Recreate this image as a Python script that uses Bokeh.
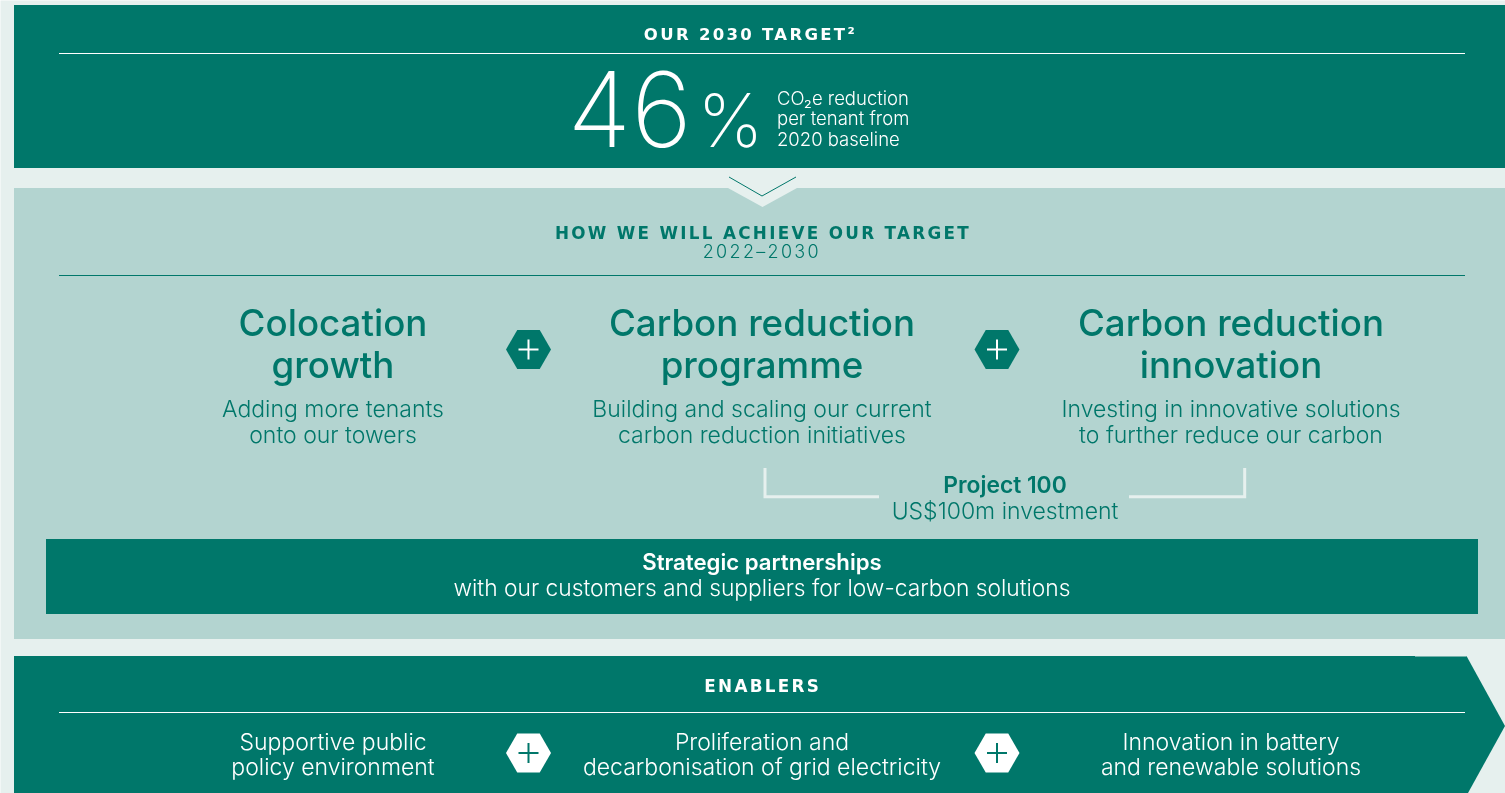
from bokeh.embed import file_html
from bokeh.resources import INLINE
from bokeh.plotting import figure
from bokeh.core.properties import value

TEAL = "#00776a"
LIGHT = "#b3d4d0"
PALE = "#e6f0ee"
WHITE = "#ffffff"
BODY = "Inter Light"
HEAD = "Inter Medium"
BOLD = "Inter SemiBold"
CAPS = "DejaVu Sans"
BIG = "Inter ExtraLight"

top_title = "OUR 2030 TARGET²"
big_number = "46"
big_unit = "%"
big_note = ["CO₂e reduction", "per tenant from", "2020 baseline"]
how_title = "HOW WE WILL ACHIEVE OUR TARGET"
how_years = "2022–2030"
pillar_titles = [["Colocation", "growth"], ["Carbon reduction", "programme"], ["Carbon reduction", "innovation"]]
pillar_notes = [["Adding more tenants", "onto our towers"],
                ["Building and scaling our current", "carbon reduction initiatives"],
                ["Investing in innovative solutions", "to further reduce our carbon"]]
project_title = "Project 100"
project_note = "US$100m investment"
partner_title = "Strategic partnerships"
partner_note = "with our customers and suppliers for low-carbon solutions"
enablers_title = "ENABLERS"
enablers = [["Supportive public", "policy environment"],
            ["Proliferation and", "decarbonisation of grid electricity"],
            ["Innovation in battery", "and renewable solutions"]]
column_x = [333, 762, 1231]
plus_x = [528.5, 997]


def canvas(fill, extra):
    # the half pixel cancels the offset the SVG backend applies to everything it draws
    f = figure(width=1505, height=793, x_range=(0.5, 1505.5), y_range=(793.5, 0.5),
               output_backend="svg", toolbar_location=None, min_border=0,
               x_axis_location=None, y_axis_location=None,
               background_fill_color=fill, border_fill_color=fill, outline_line_color=None,
               styles={"position": "fixed", "left": "0", "top": "0", **extra})
    f.grid.visible = False
    return f


p = canvas(PALE, {})
q = canvas(None, {"letter-spacing": "2.3px", "pointer-events": "none"})


def label(x, y, s, font, size, color, align="center", bold=False, fig=p):
    fig.text([x], [y], text=[s], text_font=value(font), text_font_size=f"{size}px",
             text_color=color, text_align=align, text_baseline="middle",
             text_font_style="bold" if bold else "normal")


# panels
p.quad(left=[14], right=[1505], top=[5], bottom=[168], fill_color=TEAL, line_color=None)
p.quad(left=[14], right=[1505], top=[188], bottom=[639], fill_color=LIGHT, line_color=None)
p.quad(left=[46], right=[1478], top=[539], bottom=[614], fill_color=TEAL, line_color=None)
p.patch([14, 1466.5, 1505, 1468, 14], [656, 656, 726, 793, 793], fill_color=TEAL, line_color=None)
p.line([1415, 1466.5], [656.5, 656.5], line_color=PALE, line_alpha=0.5, line_width=1)

# chevron between the panels
p.patch([728, 797, 762.5], [188, 188, 207], fill_color=PALE, line_color=None)
p.line([729, 762, 796], [177, 196, 177], line_color=TEAL, line_width=1)

# rules
p.line([59, 1465], [53.5, 53.5], line_color=WHITE, line_width=1)
p.line([59, 1465], [275.5, 275.5], line_color=TEAL, line_width=1)
p.line([59, 1465], [712.5, 712.5], line_color=WHITE, line_width=1)

# brackets
p.line([765, 765, 879], [468, 496.8, 496.8], line_color=PALE, line_width=3, line_join="miter")
p.line([1129, 1244.7, 1244.7], [496.8, 496.8, 468], line_color=PALE, line_width=3, line_join="miter")

# hexagons with a plus
p.scatter(plus_x, [349.5, 349.5], marker="hex", size=45, fill_color=TEAL, line_color=None)
p.scatter(plus_x, [349.5, 349.5], marker="cross", size=20, fill_color=None, line_color=WHITE, line_width=2)
p.scatter(plus_x, [753, 753], marker="hex", size=45, fill_color=WHITE, line_color=None)
p.scatter(plus_x, [753, 753], marker="cross", size=20, fill_color=None, line_color=TEAL, line_width=2)

# top panel text
label(732, 34.5, top_title, CAPS, 16.5, WHITE, bold=True, fig=q)
label(567.5, 108.5, big_number, BIG, 104, WHITE, align="left")
label(697.5, 119.5, big_unit, BIG, 74, WHITE, align="left")
for y, s in zip([98, 118, 139], big_note):
    label(777, y, s, BODY, 18.5, WHITE, align="left")

# middle panel text
label(728.5, 232.5, how_title, CAPS, 16.8, TEAL, bold=True, fig=q)
label(751.5, 251, how_years, BODY, 18, TEAL, fig=q)
for x, t, n in zip(column_x, pillar_titles, pillar_notes):
    label(x, 322.5, t[0], HEAD, 36.7, TEAL)
    label(x, 364.5, t[1], HEAD, 36.7, TEAL)
    label(x, 408.5, n[0], BODY, 23, TEAL)
    label(x, 434.5, n[1], BODY, 23, TEAL)
label(1005, 484.5, project_title, BOLD, 22.8, TEAL)
label(1005, 510.5, project_note, BODY, 23, TEAL)
label(762, 561.5, partner_title, BOLD, 22.2, WHITE)
label(762, 587.5, partner_note, BODY, 22.8, WHITE)

# bottom panel text
label(753.5, 685.5, enablers_title, CAPS, 16.8, WHITE, bold=True, fig=q)
for x, e in zip(column_x, enablers):
    label(x, 741.5, e[0], BODY, 23, WHITE)
    label(x, 766.5, e[1], BODY, 23, WHITE)

open("out.html", "w").write(file_html([p, q], INLINE))
